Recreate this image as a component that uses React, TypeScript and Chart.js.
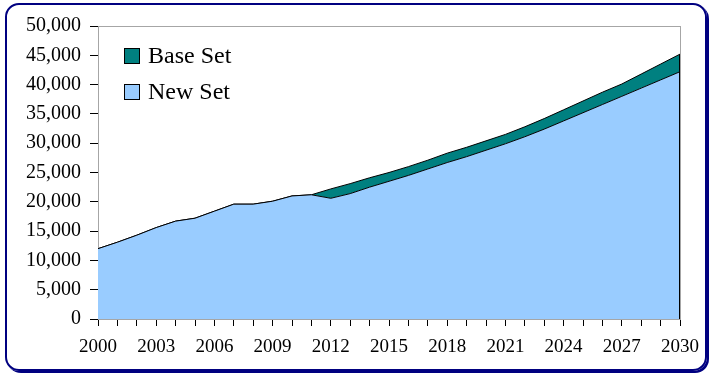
import React, { useEffect, useRef } from "react";
import { Chart, registerables } from "chart.js";

Chart.register(...registerables);

const years = [
  "2000", "2001", "2002", "2003", "2004", "2005", "2006", "2007", "2008", "2009",
  "2010", "2011", "2012", "2013", "2014", "2015", "2016", "2017", "2018", "2019",
  "2020", "2021", "2022", "2023", "2024", "2025", "2026", "2027", "2028", "2029", "2030",
];

const newSet = [
  12000, 13100, 14300, 15600, 16700, 17200, 18400, 19600, 19600, 20100,
  21000, 21200, 20600, 21400, 22500, 23500, 24500, 25600, 26700, 27700,
  28800, 29900, 31100, 32400, 33800, 35200, 36600, 38000, 39400, 40800, 42200,
];

const baseSet = [
  0, 0, 0, 0, 0, 0, 0, 0, 0, 0,
  0, 0, 1600, 1700, 1600, 1500, 1500, 1500, 1600, 1600,
  1600, 1600, 1700, 1800, 1900, 2000, 2100, 2100, 2400, 2700, 3000,
];

const yTicks = [0, 5000, 10000, 15000, 20000, 25000, 30000, 35000, 40000, 45000, 50000];

const seriesNames = ["New Set", "Base Set"];
const seriesColors = ["#99CCFF", "#008080"];

const SERIF = '"Liberation Serif", "Times New Roman", serif';

const plotFramePlugin = {
  id: "plotFrame",
  beforeDatasetsDraw(chart: any) {
    const { ctx, chartArea } = chart;
    ctx.save();
    ctx.strokeStyle = "#a6a6a6";
    ctx.lineWidth = 1;
    ctx.strokeRect(chartArea.left + 0.5, chartArea.top + 0.5, chartArea.right - chartArea.left, chartArea.bottom - chartArea.top);
    ctx.restore();
  },
  afterDatasetsDraw(chart: any) {
    const { ctx, chartArea } = chart;
    const meta = chart.getDatasetMeta(chart.data.datasets.length - 1);
    const last = meta.data[meta.data.length - 1];
    if (!last) return;
    ctx.save();
    ctx.strokeStyle = "#000";
    ctx.lineWidth = 1;
    ctx.beginPath();
    ctx.moveTo(Math.round(last.x) - 0.5, last.y);
    ctx.lineTo(Math.round(last.x) - 0.5, chartArea.bottom);
    ctx.stroke();
    ctx.restore();
  },
  afterDraw(chart: any) {
    const { ctx, chartArea } = chart;
    const ds = chart.data.datasets;
    ctx.save();
    ctx.font = `24px ${SERIF}`;
    ctx.textBaseline = "alphabetic";
    ctx.textAlign = "left";
    for (let k = 0; k < ds.length; k++) {
      const d = ds[ds.length - 1 - k];
      const bx = chartArea.left + 26;
      const by = chartArea.top + 22 + k * 36;
      ctx.fillStyle = d.backgroundColor;
      ctx.fillRect(bx, by, 15, 15);
      ctx.strokeStyle = "#000";
      ctx.lineWidth = 1;
      ctx.strokeRect(bx + 0.5, by + 0.5, 15, 15);
      ctx.fillStyle = "#000";
      ctx.fillText(d.label, bx + 24, by + 15);
    }
    ctx.restore();
  },
};

export default function App() {
  const ref = useRef<HTMLCanvasElement>(null);

  useEffect(() => {
    if (!ref.current) return;
    const chart = new Chart(ref.current, {
      type: "line",
      data: {
        labels: years,
        datasets: [
          {
            label: seriesNames[0],
            data: newSet,
            backgroundColor: seriesColors[0],
            borderColor: "#000",
            borderWidth: 1,
            fill: "origin",
            pointRadius: 0,
            tension: 0,
          },
          {
            label: seriesNames[1],
            data: baseSet,
            backgroundColor: seriesColors[1],
            borderColor: "#000",
            borderWidth: 1,
            fill: "-1",
            pointRadius: 0,
            tension: 0,
          },
        ],
      },
      options: {
        animation: false,
        responsive: false,
        maintainAspectRatio: false,
        layout: { padding: { left: 0, right: 29, top: 26, bottom: 0 } },
        plugins: {
          legend: { display: false },
          tooltip: { enabled: false },
        },
        scales: {
          x: {
            type: "category",
            offset: false,
            z: 1,
            afterFit: (s: any) => { s.height = 55; },
            grid: {
              display: true,
              drawOnChartArea: false,
              drawTicks: true,
              tickLength: 7,
              color: "#000",
            },
            border: { display: true, color: "#000", width: 1 },
            ticks: {
              autoSkip: false,
              maxRotation: 0,
              minRotation: 0,
              padding: 10,
              color: "#000",
              font: { family: SERIF, size: 19 },
              callback: (_v: any, i: number) => (i % 3 === 0 ? years[i] : ""),
            },
          },
          y: {
            stacked: true,
            min: yTicks[0],
            max: yTicks[yTicks.length - 1],
            z: 1,
            afterFit: (s: any) => { s.width = 98; },
            afterBuildTicks: (s: any) => { s.ticks = yTicks.map((v) => ({ value: v })); },
            grid: {
              display: true,
              drawOnChartArea: false,
              drawTicks: true,
              tickLength: 8,
              color: "#000",
            },
            border: { display: true, color: "#000", width: 1 },
            ticks: {
              padding: 9,
              color: "#000",
              font: { family: SERIF, size: 20 },
              callback: (v: any) => Number(v).toLocaleString("en-US"),
            },
          },
        },
      },
      plugins: [plotFramePlugin],
    });
    return () => chart.destroy();
  }, []);

  return (
    <div style={{ position: "fixed", left: 0, top: 0, width: 709, height: 374, background: "#fff", overflow: "hidden" }}>
      <div
        style={{
          position: "absolute",
          left: 5,
          top: 3,
          width: 698,
          height: 364,
          border: "2px solid #000080",
          borderRadius: 14,
          boxShadow: "2px 2px 0 #000080",
        }}
      />
      <canvas ref={ref} width={709} height={374} style={{ position: "absolute", left: 0, top: 0, width: 709, height: 374 }} />
    </div>
  );
}
